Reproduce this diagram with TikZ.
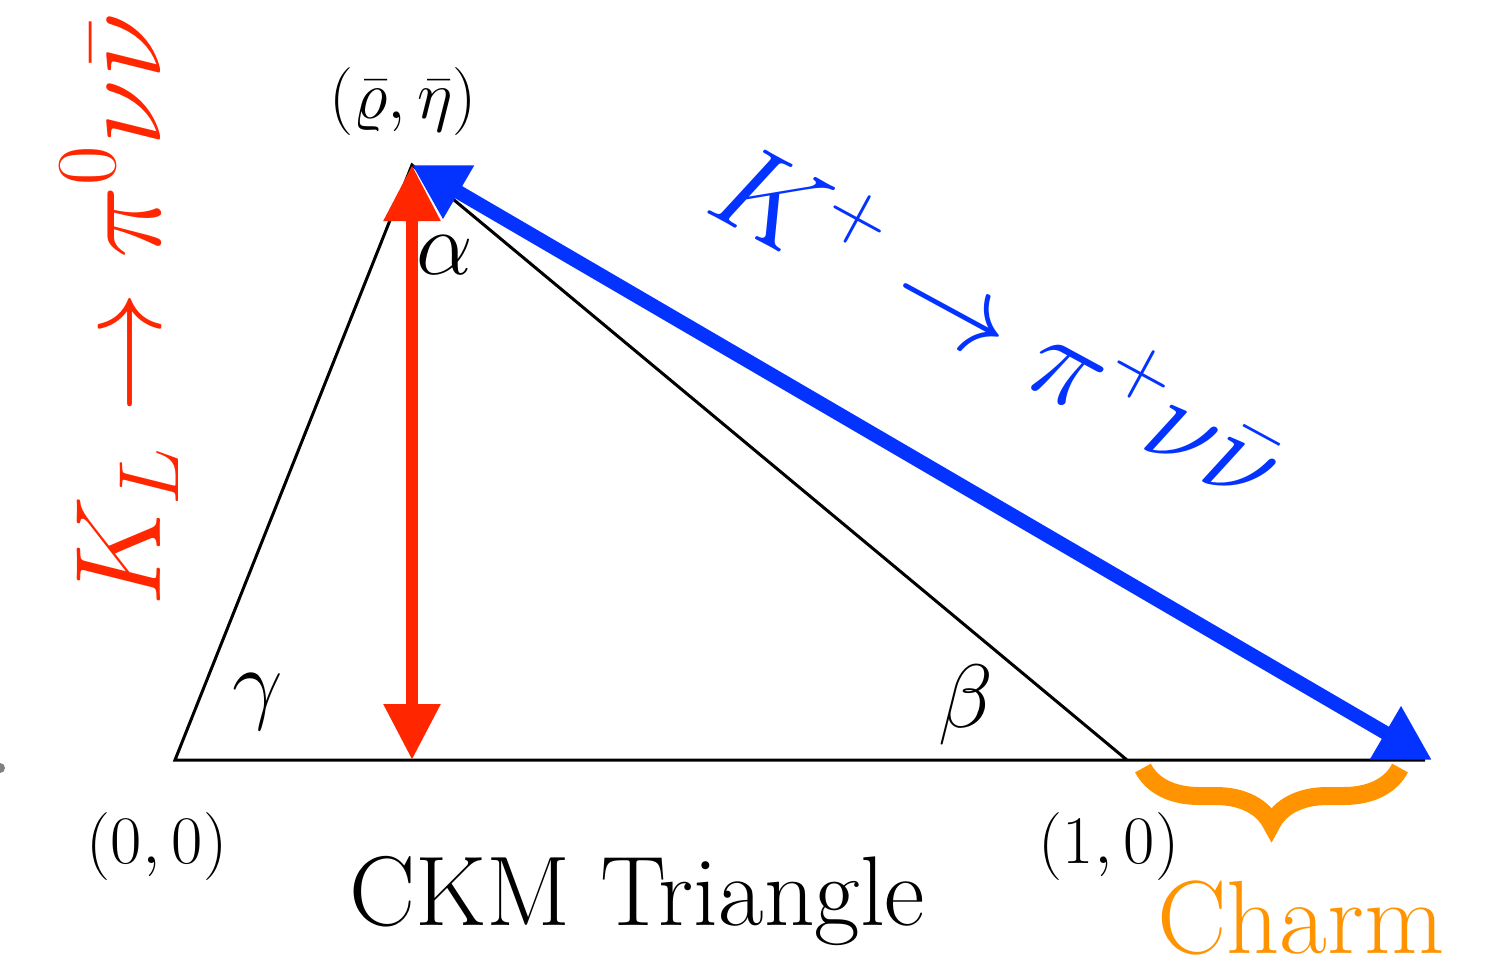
\RequirePackage{fix-cm}
\documentclass[tikz,border=0pt]{standalone}
\usepackage{amsmath}
\usetikzlibrary{arrows.meta,decorations.pathreplacing}
\definecolor{kred}{RGB}{255,38,0}
\definecolor{kblue}{RGB}{4,51,255}
\definecolor{korange}{RGB}{255,147,0}
\begin{document}
\begin{tikzpicture}[x=1pt,y=-1pt,
  side/.style={line width=3pt, line join=miter},
  lbl/.style={inner sep=0pt, font=\fontsize{68}{68}\selectfont},
  ang/.style={inner sep=0pt, font=\fontsize{90}{90}\selectfont},
  redarrow/.style={kred, line width=12pt, {Triangle[length=56pt,width=54pt]}-{Triangle[length=56pt,width=54pt]}},
  bluearrow/.style={kblue, line width=14pt, {Triangle[length=54pt,width=58pt]}-{Triangle[length=54pt,width=58pt]}},
  bigmath/.style={inner sep=0pt, font=\fontsize{122}{122}\selectfont}]
\useasboundingbox (0,0) rectangle (1485,958);
\fill[gray] (0,768) circle (5);
\coordinate (O) at (175,760);
\coordinate (A) at (412,165);
\coordinate (B) at (1127,760);
\coordinate (E) at (1432,760);
\coordinate (Eb) at (1425,760);
\coordinate (F) at (412,760);
\draw[side] (Eb) -- (O) -- (A) -- (B);
\draw[redarrow] (F) -- (A);
\draw[bluearrow] (A) -- (E);
% labels
\node[lbl] (rhoeta) at (403,102) {$(\bar\varrho,\bar\eta)$};
\node[lbl] (zero) at (157,846) {$(0,0)$};
\node[lbl] (one) at (1109,846) {$(1,0)$};
\node[ang] (alpha) at (445,255) {$\alpha$};
\node[ang] (gamma) at (258,702) {$\gamma$};
\node[ang] (beta) at (966,705) {$\beta$};
\node[inner sep=0pt, anchor=base, font=\fontsize{99}{99}\selectfont] (ckm) at (637,925) {CKM Triangle};
\node[inner sep=0pt, anchor=base, text=korange, font=\fontsize{104}{104}\selectfont] (charm) at (1301,953) {Charm};
\node[bigmath, text=kred, rotate=90, anchor=base west] (kl) at (160,607) {$K_L\rightarrow\pi^0\nu\bar\nu$};
\node[bigmath, text=kblue, rotate=-28.5, anchor=base west] (kp) at (702,210) {$K^+\rightarrow\pi^+\nu\bar\nu$};
% brace
\coordinate (br1) at (1143,768);
\coordinate (br2) at (1400,768);
\draw[korange, line width=18pt, decorate, decoration={brace, mirror, amplitude=56pt}] (br1) -- (br2);
\end{tikzpicture}
\end{document}
